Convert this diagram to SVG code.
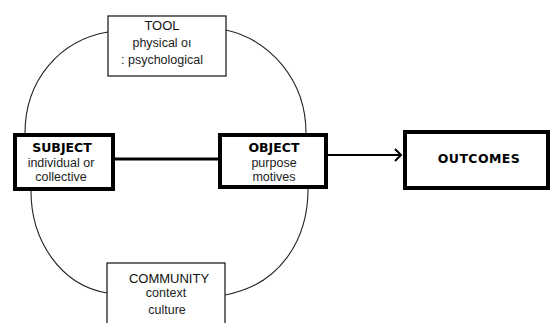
<svg xmlns="http://www.w3.org/2000/svg" width="552" height="323" viewBox="0 0 552 323">
<style>
.thin{fill:#fff;stroke:#222;stroke-width:1.3}
.thick{fill:#fff;stroke:#000;stroke-width:4}
.arc{fill:none;stroke:#222;stroke-width:1.1}
.cap{font-family:"Liberation Sans",Arial,sans-serif;font-size:13px;fill:#111;text-anchor:middle}
.sub{font-family:"Liberation Sans",Arial,sans-serif;font-size:12.5px;fill:#222;text-anchor:middle}
.bold{font-family:"DejaVu Sans",Verdana,sans-serif;font-weight:bold;font-size:12.5px;fill:#000;text-anchor:middle}
</style>
<defs>
<marker id="ah" markerWidth="10" markerHeight="14" refX="7" refY="7" orient="auto" markerUnits="userSpaceOnUse">
<path d="M1,1 Q4,4 7,7 Q4,10 1,13" fill="none" stroke="#000" stroke-width="2"/>
</marker>
</defs>
<rect width="552" height="323" fill="#fff"/>
<g id="connectors">
<path class="arc" d="M108,32 C60,40 25,80 25,133"/>
<path class="arc" d="M226,30 C270,40 306,80 306,133"/>
<path class="arc" d="M31,191 C31,240 60,285 107,293"/>
<path class="arc" d="M308,189 C308,240 280,285 225,295"/>
<line x1="115" y1="159" x2="218" y2="159" stroke="#000" stroke-width="3"/>
<line x1="328" y1="155" x2="401" y2="155" stroke="#000" stroke-width="2" marker-end="url(#ah)"/>
</g>
<g id="tool">
<rect class="thin" x="108" y="16" width="118" height="60"/>
<text class="cap" x="162" y="30">TOOL</text>
<text class="sub" x="162" y="47">physical oı</text>
<text class="sub" x="162" y="64">: psychological</text>
</g>
<g id="subject">
<rect class="thick" x="15" y="135" width="98" height="54"/>
<text class="bold" x="62" y="152">SUBJECT</text>
<text class="sub" x="61" y="167">individual or</text>
<text class="sub" x="61" y="181">collective</text>
</g>
<g id="object">
<rect class="thick" x="220" y="135" width="106" height="52"/>
<text class="bold" x="274" y="152">OBJECT</text>
<text class="sub" x="274" y="167">purpose</text>
<text class="sub" x="274" y="181">motives</text>
</g>
<g id="outcomes">
<rect class="thick" x="405" y="132" width="143" height="56"/>
<text class="bold" x="479" y="163" letter-spacing="0.4">OUTCOMES</text>
</g>
<g id="community">
<rect class="thin" x="107" y="263" width="118" height="62"/>
<text class="cap" x="169" y="283">COMMUNITY</text>
<text class="sub" x="166" y="297">context</text>
<text class="sub" x="167" y="314">culture</text>
</g>
</svg>
